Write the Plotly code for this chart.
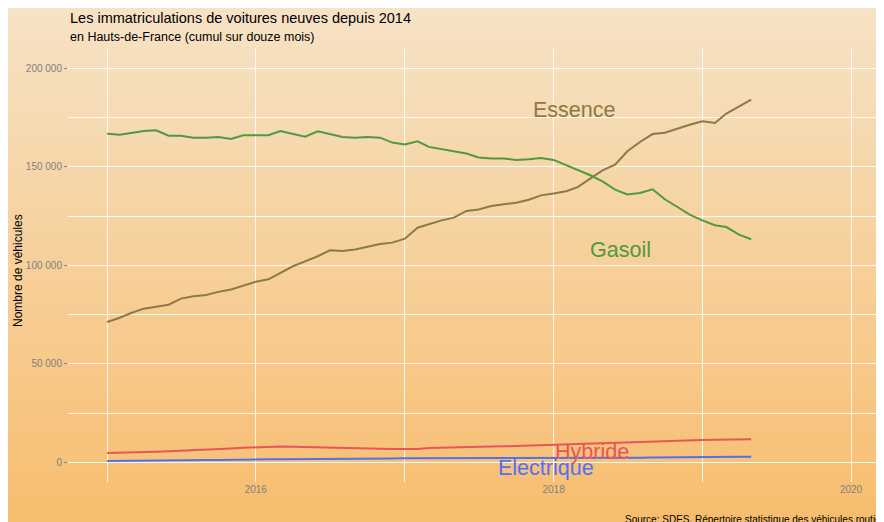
import plotly.graph_objects as go
import pandas as pd

# ---- data ----
months = pd.date_range("2015-01-01", "2019-05-01", freq="MS")

essence = [71200, 73400, 75800, 78000, 79000, 80000, 83100, 84300, 84900, 86500,
           87700, 89800, 91700, 92900, 96100, 99500, 102000, 104600, 107600, 107300,
           108000, 109300, 110800, 111500, 113500, 119100, 121000, 122800, 124200, 127600,
           128300, 130100, 131000, 131800, 133300, 135500, 136400, 137600, 139700, 144000,
           148200, 151100, 157900, 162600, 166600, 167300, 169400, 171300, 173100, 172200,
           177000, 180400, 184100]
gasoil = [166800, 166300, 167200, 168200, 168500, 165800, 165700, 164800, 164800, 165100,
          164100, 166000, 166000, 166000, 168200, 166800, 165300, 168000, 166500, 165100,
          164800, 165100, 164800, 162300, 161300, 162900, 160100, 158900, 158000, 156700,
          154700, 154200, 154200, 153500, 153800, 154500, 153500, 150800, 148200, 145700,
          142600, 138400, 136000, 136700, 138600, 133500, 129600, 125700, 122800, 120300,
          119400, 115600, 113200]
hybride = [4700, 4800, 5000, 5200, 5400, 5600, 5800, 6000, 6300, 6600,
           7000, 7400, 7700, 8000, 8000, 7900, 7800, 7500, 7400, 7300,
           7200, 7100, 6900, 6700, 6600, 6800, 7300, 7500, 7600, 7700,
           7800, 8000, 8100, 8300, 8500, 8800, 9000, 9300, 9500, 9800,
           10000, 10200, 10400, 10600, 10800, 11000, 11100, 11200, 11300, 11400,
           11500, 11600, 11700]
electrique = [700, 800, 900, 1000, 1100, 1200, 1200, 1200, 1200, 1200,
              1200, 1300, 1500, 1500, 1600, 1600, 1600, 1600, 1700, 1700,
              1700, 1700, 1800, 1900, 2000, 2000, 2000, 2000, 2000, 2000,
              2000, 2100, 2100, 2100, 2100, 2100, 2100, 2100, 2100, 2100,
              2100, 2100, 2200, 2300, 2400, 2500, 2600, 2600, 2700, 2700,
              2800, 2800, 2800]

series_names = ["Essence", "Gasoil", "Hybride", "Electrique"]
series_values = [essence, gasoil, hybride, electrique]
series_colors = ["#8c7a45", "#4f9a3f", "#e8555a", "#5270f5"]
label_x = ["2018-02-20", "2018-06-14", "2018-04-05", "2017-12-13"]
label_y = [178800, 107800, 5200, -2900]

title = "Les immatriculations de voitures neuves depuis 2014"
subtitle = "en Hauts-de-France (cumul sur douze mois)"
ytitle = "Nombre de véhicules"
source = "Source: SDES, Répertoire statistique des véhicules routiers"

# ---- layout geometry (figure pixels; page adds an 8px body offset) ----
OFF = 8
W, H = 876, 514
L, R, T, B = 60, 0, 40, 40
PW, PH = W - L - R, H - T - B

def px_x(sx):
    return (sx - OFF - L) / PW

def px_y(sy):
    return (H - B - (sy - OFF)) / PH

FONT = "Liberation Sans, Arial, sans-serif"

fig = go.Figure()
for name, vals, col in zip(series_names, series_values, series_colors):
    fig.add_trace(go.Scatter(x=months, y=vals, mode="lines", name=name,
                             line=dict(color=col, width=2), hoverinfo="x+y+name"))

# gradient background
top_c = (246, 227, 199)
bot_c = (247, 189, 110)
shapes = []
step = 3
for py in range(0, H, step):
    t = (py + OFF + step / 2) / (H + OFF)
    c = tuple(round(top_c[k] + (bot_c[k] - top_c[k]) * t) for k in range(3))
    shapes.append(dict(type="rect", xref="paper", yref="paper",
                       x0=-L / PW - 0.01, x1=1.01,
                       y0=(H - B - (py + step + 0.5)) / PH, y1=(H - B - py) / PH,
                       fillcolor="rgb(%d,%d,%d)" % c, line=dict(width=0), layer="below"))

annotations = []
for name, col, lx, ly in zip(series_names, series_colors, label_x, label_y):
    annotations.append(dict(x=lx, y=ly, xref="x", yref="y", text=name, showarrow=False,
                            font=dict(size=21.5, color=col, family=FONT),
                            xanchor="center", yanchor="middle"))
annotations += [
    dict(x=px_x(68), y=px_y(18), xref="paper", yref="paper", text=title, showarrow=False,
         xanchor="left", yanchor="middle", font=dict(size=14.5, color="black", family=FONT)),
    dict(x=px_x(68), y=px_y(37), xref="paper", yref="paper", text=subtitle, showarrow=False,
         xanchor="left", yanchor="middle", font=dict(size=12.5, color="black", family=FONT)),
    dict(x=px_x(18), y=px_y(271), xref="paper", yref="paper", text=ytitle, showarrow=False,
         textangle=-90, xanchor="center", yanchor="middle",
         font=dict(size=12, color="black", family=FONT)),
    dict(x=px_x(623), y=px_y(519), xref="paper", yref="paper", text=source, showarrow=False,
         xanchor="left", yanchor="middle", font=dict(size=10, color="black", family=FONT)),
]

grid = "rgba(255,255,255,0.85)"
fig.update_layout(
    width=W, height=H,
    margin=dict(l=L, r=R, t=T, b=B, pad=0),
    paper_bgcolor="rgb(246,208,155)",
    plot_bgcolor="rgba(0,0,0,0)",
    showlegend=False,
    separators=", ",
    font=dict(family=FONT),
    shapes=shapes,
    annotations=annotations,
    xaxis=dict(type="date", range=["2014-09-27", "2020-03-22"],
               tick0="2016-01-01", dtick="M24", tickformat="%Y",
               showgrid=True, gridcolor=grid, gridwidth=1,
               minor=dict(dtick="M12", tick0="2015-01-01", showgrid=True,
                          gridcolor=grid, gridwidth=1),
               zeroline=False, showline=False, ticks="",
               tickfont=dict(size=10, color="#7f7f7f", family=FONT)),
    yaxis=dict(range=[-10000, 210300], tickvals=[0, 50000, 100000, 150000, 200000],
               tickformat=",d",
               showgrid=True, gridcolor=grid, gridwidth=1,
               minor=dict(tickvals=[25000, 75000, 125000, 175000], showgrid=True,
                          gridcolor=grid, gridwidth=1),
               zeroline=False, showline=False, ticks="outside", ticklen=3,
               tickcolor="#7f7f7f", tickwidth=1,
               tickfont=dict(size=10, color="#7f7f7f", family=FONT)),
)

fig.write_html("out.html", post_script="document.documentElement.style.overflow='hidden';document.body.style.overflow='hidden';")
